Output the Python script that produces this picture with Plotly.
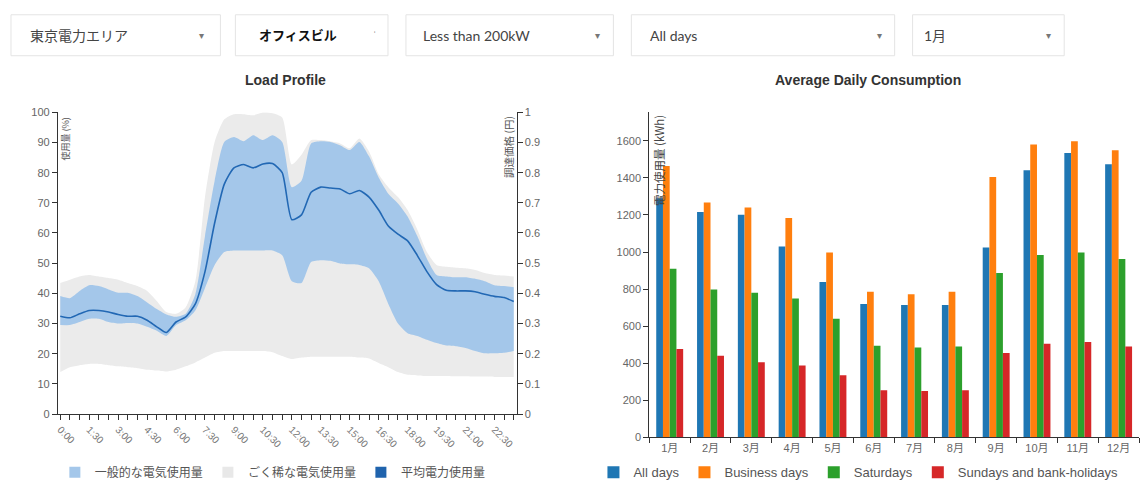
import plotly.graph_objects as go

W, H = 1142, 488

# ---------------- data ----------------
times = [f"{h}:{m:02d}" for h in range(24) for m in (0, 30)]
time_labels = [t if i % 3 == 0 else "" for i, t in enumerate(times)]

mean_load = [32.4, 31.9, 33.2, 34.3, 34.3, 33.8, 33.0, 32.4, 32.4, 31.1, 28.9, 27.0,
             30.5, 32.2, 36.5, 47.2, 63.3, 76.2, 81.6, 82.7, 81.6, 82.9, 83.0, 80.0,
             64.4, 66.0, 73.5, 75.2, 74.9, 74.6, 73.0, 74.1, 71.9, 67.6, 62.3, 59.6,
             57.4, 52.6, 47.2, 42.9, 41.0, 40.8, 40.8, 40.5, 39.7, 39.0, 38.6, 37.3]
typical_upper = [39.1, 38.4, 40.8, 42.7, 42.4, 41.3, 40.2, 40.2, 39.1, 37.0, 34.8, 33.0,
                 32.2, 33.2, 39.7, 59.0, 77.3, 90.2, 91.8, 90.4, 92.4, 90.8, 92.4, 90.2,
                 75.2, 77.3, 89.7, 90.4, 90.2, 89.1, 87.5, 90.2, 85.4, 78.4, 73.0, 69.8,
                 65.5, 59.0, 51.5, 46.1, 45.6, 45.3, 45.3, 44.8, 44.0, 42.7, 42.4, 42.0]
typical_lower = [29.5, 29.5, 30.5, 31.6, 31.6, 30.5, 30.0, 30.2, 30.0, 28.9, 27.6, 25.9,
                 29.5, 31.1, 34.3, 41.8, 49.4, 53.7, 54.2, 54.2, 54.2, 54.2, 54.2, 52.6,
                 44.0, 43.4, 50.4, 51.0, 50.8, 49.9, 49.6, 49.4, 48.3, 44.0, 36.5, 30.0,
                 26.8, 25.9, 24.6, 23.5, 22.7, 22.5, 21.9, 20.9, 20.1, 20.1, 20.3, 20.9]
rare_upper = [43.4, 44.5, 45.6, 46.1, 45.6, 45.1, 44.5, 43.4, 42.4, 40.8, 37.5, 33.8,
              33.2, 35.4, 44.0, 71.9, 90.2, 97.7, 99.4, 99.4, 99.0, 99.9, 99.7, 98.3,
              82.7, 85.9, 90.8, 90.8, 90.4, 89.7, 88.1, 91.3, 87.0, 79.5, 75.2, 71.9,
              67.6, 61.2, 53.7, 49.4, 48.8, 48.5, 48.3, 47.7, 46.7, 46.1, 45.9, 45.6]
rare_lower = [13.9, 15.5, 16.2, 16.6, 16.6, 16.2, 15.8, 15.5, 15.2, 14.7, 14.4, 14.1,
              14.7, 15.8, 17.1, 18.7, 20.3, 20.9, 20.9, 20.9, 20.9, 20.9, 20.5, 19.2,
              18.2, 18.7, 19.0, 19.0, 19.0, 19.0, 19.0, 18.7, 18.4, 16.9, 15.5, 13.9,
              13.0, 12.8, 12.6, 12.6, 12.6, 12.5, 12.5, 12.4, 12.4, 12.3, 12.3, 12.3]

months = ["1月", "2月", "3月", "4月", "5月", "6月", "7月", "8月", "9月", "10月", "11月", "12月"]
all_days = [1290, 1216, 1202, 1030, 839, 720, 715, 715, 1025, 1442, 1535, 1474]
business_days = [1464, 1267, 1241, 1184, 998, 786, 773, 786, 1405, 1581, 1598, 1550]
saturdays = [910, 798, 781, 750, 640, 495, 485, 490, 887, 984, 998, 963]
sundays = [477, 440, 405, 388, 335, 255, 250, 255, 455, 505, 515, 490]

load_ticks_y = [0, 10, 20, 30, 40, 50, 60, 70, 80, 90, 100]
price_ticks = [0, 0.1, 0.2, 0.3, 0.4, 0.5, 0.6, 0.7, 0.8, 0.9, 1]
kwh_ticks = [0, 200, 400, 600, 800, 1000, 1200, 1400, 1600]

dropdowns = ["東京電力エリア", "オフィスビル", "Less than 200kW", "All days", "1月"]

# ---------------- helpers ----------------
def px(x):
    return x / W

def py(y):
    return 1 - y / H

FONT = "Liberation Sans, Noto Sans CJK JP, sans-serif"
JFONT = "Noto Sans CJK JP, Liberation Sans, sans-serif"
idx = list(range(len(times)))
SPL = dict(shape="spline", smoothing=0.6)

fig = go.Figure()

# rare usage band (grey)
fig.add_trace(go.Scatter(x=idx, y=rare_lower, mode="lines", line=dict(width=0, **SPL),
                         hoverinfo="skip", showlegend=False, xaxis="x", yaxis="y"))
fig.add_trace(go.Scatter(x=idx, y=rare_upper, mode="lines", line=dict(width=0, **SPL),
                         fill="tonexty", fillcolor="#ebebeb", showlegend=False, xaxis="x", yaxis="y"))
# typical usage band (light blue)
fig.add_trace(go.Scatter(x=idx, y=typical_lower, mode="lines", line=dict(width=0, **SPL),
                         hoverinfo="skip", showlegend=False, xaxis="x", yaxis="y"))
fig.add_trace(go.Scatter(x=idx, y=typical_upper, mode="lines", line=dict(width=0, **SPL),
                         fill="tonexty", fillcolor="#a4c7ea", showlegend=False, xaxis="x", yaxis="y"))
# mean
fig.add_trace(go.Scatter(x=idx, y=mean_load, mode="lines", line=dict(width=1.6, color="#2268b4", **SPL),
                         showlegend=False, xaxis="x", yaxis="y"))

# legend entries for left chart
for name, col in [("一般的な電気使用量", "#a4c7ea"), ("ごく稀な電気使用量", "#e8e8e8"), ("平均電力使用量", "#1f63ad")]:
    fig.add_trace(go.Scatter(x=[None], y=[None], mode="markers", name=name,
                             marker=dict(symbol="square", size=11, color=col),
                             xaxis="x", yaxis="y", legend="legend"))

# bars
for name, vals, col in [("All days", all_days, "#1f77b4"), ("Business days", business_days, "#ff7f0e"),
                        ("Saturdays", saturdays, "#2ca02c"), ("Sundays and bank-holidays", sundays, "#d62728")]:
    fig.add_trace(go.Bar(x=months, y=vals, name=name, marker=dict(color=col, line=dict(width=0)),
                         xaxis="x2", yaxis="y3", legend="legend2"))

# keeps the secondary (right) axis of the load chart rendered
fig.add_trace(go.Scatter(x=[None], y=[None], xaxis="x", yaxis="y2", showlegend=False, hoverinfo="skip"))

axis_base = dict(showgrid=False, zeroline=False, showline=True, linecolor="#333", linewidth=1,
                 ticks="outside", ticklen=5, tickcolor="#333", tickwidth=1)
tick_font = dict(family=FONT, size=11, color="#666")

fig.update_layout(
    width=W, height=H,
    margin=dict(l=0, r=0, t=0, b=0),
    paper_bgcolor="white", plot_bgcolor="white",
    barmode="group", bargap=0.34, bargroupgap=0,
    xaxis=dict(domain=[px(55), px(515)], range=[-0.25, 47.3], anchor="y",
               tickmode="array", tickvals=idx, ticktext=time_labels, tickangle=45,
               tickfont=dict(family=FONT, size=10, color="#777"), **axis_base),
    yaxis=dict(domain=[py(418.3), py(109)], range=[0, 100], anchor="x",
               tickmode="array", tickvals=load_ticks_y, tickfont=tick_font, **axis_base),
    yaxis2=dict(range=[0, 1], overlaying="y", side="right", anchor="x",
                tickmode="array", tickvals=price_ticks, ticktext=[str(t) for t in price_ticks],
                tickfont=tick_font, **axis_base),
    xaxis2=dict(domain=[px(648), px(1139)], anchor="y3", type="category", range=[-0.5, 11.5],
                tickson="boundaries", tickfont=tick_font, **axis_base),
    yaxis3=dict(domain=[py(442.3), py(109)], range=[0, 1754], anchor="x2",
                tickmode="array", tickvals=kwh_ticks, tickfont=tick_font, **axis_base),
    legend=dict(orientation="h", x=px(52), y=py(478), xanchor="left", yanchor="middle",
                traceorder="normal",
                font=dict(family=JFONT, size=12, color="#555"), bgcolor="rgba(0,0,0,0)"),
    legend2=dict(orientation="h", x=px(592), y=py(478), xanchor="left", yanchor="middle",
                 traceorder="normal",
                 font=dict(family=FONT, size=13, color="#555"), bgcolor="rgba(0,0,0,0)"),
)

# titles
anns = [
    dict(text="<b>Load Profile</b>", x=px(283), y=py(76), font=dict(family=FONT, size=14, color="#333")),
    dict(text="<b>Average Daily Consumption</b>", x=px(867), y=py(76), font=dict(family=FONT, size=14, color="#333")),
    dict(text="使用量 (%)", x=px(63), y=py(112), yanchor="top", textangle=-90,
         font=dict(family=JFONT, size=9, color="#555")),
    dict(text="調達価格 (円)", x=px(507), y=py(111), yanchor="top", textangle=-90,
         font=dict(family=JFONT, size=10.5, color="#555")),
    dict(text="電力使用量 (kWh)", x=px(658), y=py(110), yanchor="top", textangle=-90,
         font=dict(family=JFONT, size=11.5, color="#444")),
]

# dropdown boxes
boxes = [(8, 218), (233, 386), (404, 612), (630, 894), (912, 1064)]
text_x = [25, 255, 419, 647, 921]
arrow_x = [199, 372, 596, 879, 1048]
shapes = []
for (x0, x1), label, tx, ax in zip(boxes, dropdowns, text_x, arrow_x):
    shapes.append(dict(type="rect", xref="paper", yref="paper", x0=px(x0), x1=px(x1), y0=py(51), y1=py(9),
                       line=dict(color="#e4e4e4", width=1), fillcolor="white", layer="below"))
    bold = label == "オフィスビル"
    anns.append(dict(text=f"<b>{label}</b>" if bold else label, x=px(tx), y=py(30), xanchor="left",
                     font=dict(family="Lato, Noto Sans CJK JP, sans-serif", size=14 if not bold else 13,
                               color="#111" if bold else "#444")))
    anns.append(dict(text="▾" if not bold else "ˈ", x=px(ax), y=py(30),
                     font=dict(family=FONT, size=10, color="#777")))

for a in anns:
    a.setdefault("xref", "paper")
    a.setdefault("yref", "paper")
    a.setdefault("showarrow", False)
    a.setdefault("xanchor", "center")
    a.setdefault("yanchor", "middle")

fig.update_layout(annotations=anns, shapes=shapes)

fig.write_html("out.html", config={"displayModeBar": False},
               post_script="document.body.style.margin='0';document.body.style.overflow='hidden';")
